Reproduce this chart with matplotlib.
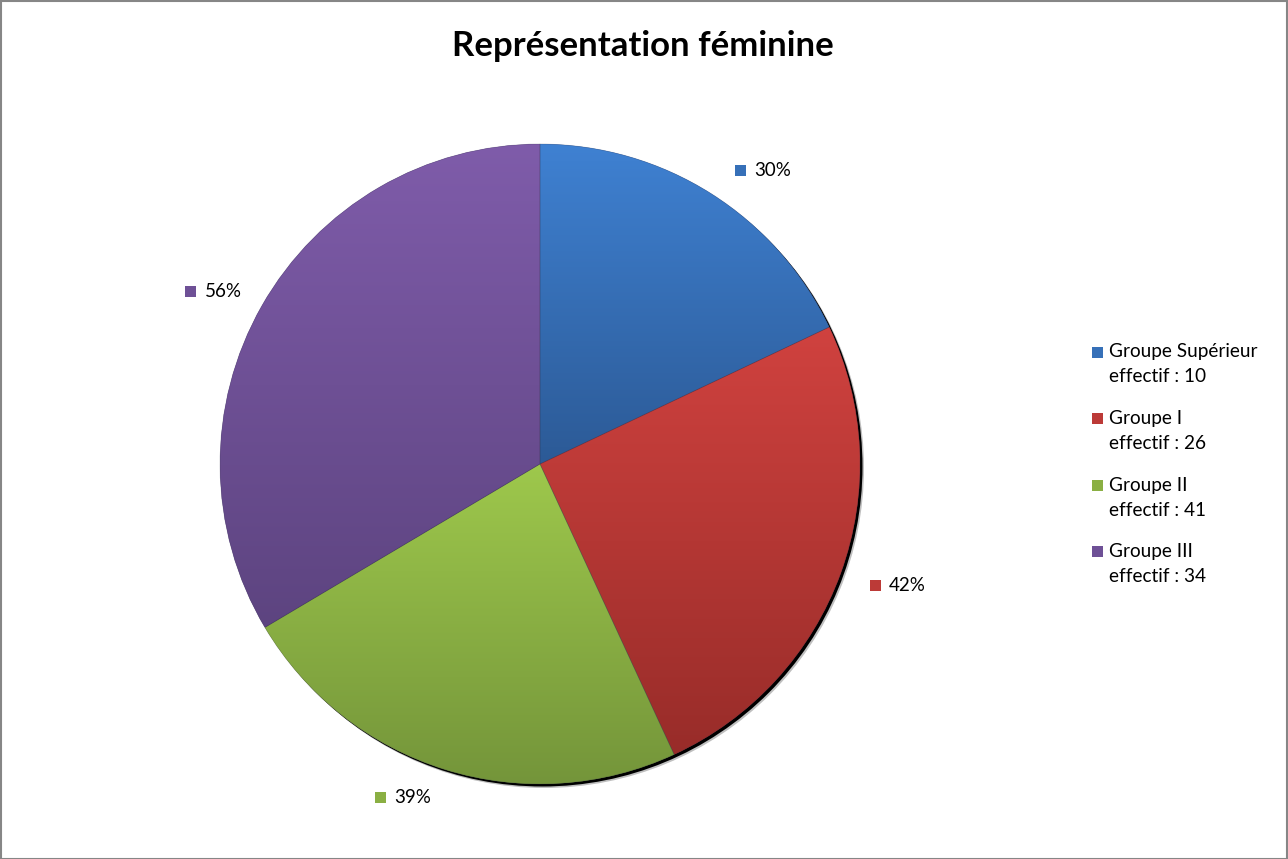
import numpy as np
import matplotlib
matplotlib.use("Agg")
import matplotlib.pyplot as plt
from matplotlib.patches import Rectangle, Circle, PathPatch
from matplotlib.colors import to_rgb

plt.rcParams['font.family'] = ['Lato', 'DejaVu Sans']

title = "Représentation féminine"
groups = ["Groupe Supérieur", "Groupe I", "Groupe II", "Groupe III"]
effectifs = [10, 26, 41, 34]
percentages = [30, 42, 39, 56]

# styles
top_colors = ["#3F81D2", "#D0423F", "#9EC84C", "#7F5CAA"]
bottom_colors = ["#2C5A96", "#982C29", "#74953A", "#5D4480"]
mid_colors = ["#3670B8", "#BC3A37", "#8AAF43", "#6E5096"]
label_nudge = [(25, 19), (10, -5), (-27, -20), (-5, 10)]

W, H = 1288, 859
fig = plt.figure(figsize=(W / 100, H / 100), dpi=100)
ax = fig.add_axes([0, 0, 1, 1])

def Y(y):
    return H - y

cx, cy, R = 540, 464, 320

# shadow
ax.add_patch(Circle((cx + 4, Y(cy) - 4), R, color="#000000", alpha=0.25, zorder=1, lw=0))
ax.add_patch(Circle((cx + 2.5, Y(cy) - 2.5), R, color="#000000", zorder=1, lw=0))

wedges, _ = ax.pie(percentages, startangle=90, counterclock=False,
                   center=(cx, Y(cy)), radius=R, colors=mid_colors,
                   wedgeprops=dict(linewidth=0, zorder=2))

for w, c1, c2 in zip(wedges, top_colors, bottom_colors):
    w.set_zorder(2)
    bb = w.get_path().get_extents()
    n = 256
    t = np.linspace(0, 1, n)[:, None]
    a, b = np.array(to_rgb(c1)), np.array(to_rgb(c2))
    grad = (a[None, :] * (1 - t) + b[None, :] * t)[:, None, :]
    im = ax.imshow(grad, extent=[bb.x0, bb.x1, bb.y0, bb.y1], origin='upper',
                   aspect='auto', interpolation='bilinear', zorder=3)
    im.set_clip_path(w)

# thin separators
for w in wedges:
    ax.add_patch(PathPatch(w.get_path(), fill=False,
                           edgecolor=(0.2, 0.2, 0.3, 0.3), lw=0.5, zorder=4))

# data labels
for w, p, col, (nx, ny) in zip(wedges, percentages, mid_colors, label_nudge):
    ang = np.deg2rad((w.theta1 + w.theta2) / 2)
    gx = cx + 370 * np.cos(ang) + nx
    gy = Y(cy) + 370 * np.sin(ang) - ny
    left = gx - 28
    ax.add_patch(Rectangle((left, gy - 5.5), 11, 11, color=col, zorder=5, lw=0))
    ax.text(left + 19, gy, f"{p}%", fontsize=13.5, ha='left', va='center',
            color='#000000', zorder=5)

# legend (manual)
for i, (g, e, col) in enumerate(zip(groups, effectifs, mid_colors)):
    y0 = 352 + i * 66.5
    ax.add_patch(Rectangle((1092, Y(y0) - 5.5), 11, 11, color=col, zorder=5, lw=0))
    ax.text(1109, Y(y0), g, fontsize=13.7, ha='left', va='center', color='#000000')
    ax.text(1109, Y(y0 + 25), f"effectif : {e}", fontsize=13.7, ha='left',
            va='center', color='#000000')

ax.text(643, Y(46), title, fontsize=25, fontweight='bold', ha='center',
        va='center', color='#000000')

# frame border
ax.add_patch(Rectangle((0.5, 0.5), W - 1.5, H - 1.5, fill=False,
                       edgecolor='#868686', lw=1.5, zorder=10))

ax.set_xlim(0, W)
ax.set_ylim(0, H)
ax.set_aspect('auto')
ax.axis('off')

fig.savefig("out.png", dpi=100, facecolor='white')
